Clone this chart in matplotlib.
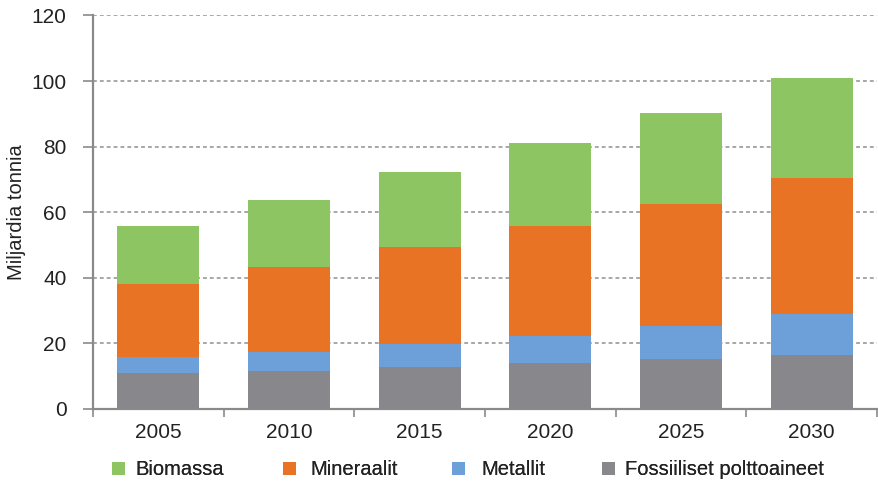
import matplotlib.pyplot as plt
import numpy as np

# Data (miljardia tonnia)
vuodet = ['2005', '2010', '2015', '2020', '2025', '2030']
fossiiliset = [10.9, 11.7, 12.8, 13.9, 15.2, 16.4]
metallit = [5.0, 5.8, 7.0, 8.4, 10.1, 12.6]
mineraalit = [22.1, 25.9, 29.6, 33.6, 37.1, 41.5]
biomassa = [17.8, 20.3, 22.9, 25.1, 27.9, 30.5]

plt.rcParams['font.family'] = ['Liberation Sans', 'DejaVu Sans']

vari_bio = '#8cc562'
vari_min = '#e87325'
vari_met = '#6d9fd8'
vari_fos = '#88888c'
harmaa = '#8a8a8a'

fig = plt.figure(figsize=(8.79, 4.84), dpi=100)
ax = fig.add_axes([0.1058, 0.155, 0.892, 0.813])

x = np.arange(len(vuodet))
lev = 0.626
fos = np.array(fossiiliset)
met = np.array(metallit)
mine = np.array(mineraalit)
bio = np.array(biomassa)

ax.bar(x, fos, lev, color=vari_fos, label='Fossiiliset polttoaineet', zorder=3)
ax.bar(x, met, lev, bottom=fos, color=vari_met, label='Metallit', zorder=3)
ax.bar(x, mine, lev, bottom=fos + met, color=vari_min, label='Mineraalit', zorder=3)
ax.bar(x, bio, lev, bottom=fos + met + mine, color=vari_bio, label='Biomassa', zorder=3)

ax.set_xlim(-0.5, len(vuodet) - 0.5)
ax.set_ylim(0, 120)
ax.set_yticks(range(0, 121, 20))
ax.yaxis.grid(True, color='#8f8f8f', linestyle=(0, (2.5, 2)), linewidth=1.1, zorder=0)

# vuosiluvut keskelle, jakoviivat pylväiden väliin
ax.set_xticks(x)
ax.set_xticklabels(vuodet)
ax.set_xticks(np.arange(-0.5, len(vuodet) + 0.5, 1), minor=True)
ax.tick_params(axis='x', which='major', length=0, pad=10, labelsize=15, labelcolor='#222222')
ax.tick_params(axis='x', which='minor', length=6, color=harmaa, width=1.2)
ax.tick_params(axis='y', length=7, color=harmaa, width=1.2, pad=12, labelsize=15, labelcolor='#222222')

for s in ['top', 'right']:
    ax.spines[s].set_visible(False)
for s in ['left', 'bottom']:
    ax.spines[s].set_color(harmaa)
    ax.spines[s].set_linewidth(1.6)

ax.set_ylabel('Miljardia tonnia', fontsize=14.5, color='#222222')
ax.yaxis.set_label_coords(-0.085, 0.5)

# selite: jokainen merkintä omalle paikalleen kuten alkuperäisessä
h, l = ax.get_legend_handles_labels()
h, l = h[::-1], l[::-1]
paikat = [112, 283, 452, 602]
valit = [0.5, 0.67, 0.77, 0.48]
for kahva, teksti, px, vali in zip(h, l, paikat, valit):
    lg = fig.legend([kahva], [teksti], loc='center left', bbox_to_anchor=(px / 879, 0.029),
                    frameon=False, fontsize=14.5, handlelength=0.67, handleheight=0.67,
                    handletextpad=vali, borderpad=0, borderaxespad=0, labelcolor='#222222')
    fig.add_artist(lg)

fig.savefig('out.png', dpi=100)
